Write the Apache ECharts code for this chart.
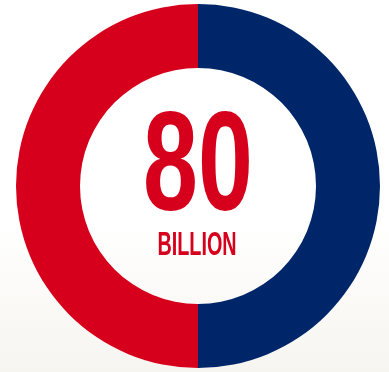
<!DOCTYPE html>
<html>
<head>
<meta charset="utf-8">
<script src="https://cdn.jsdelivr.net/npm/echarts@6/dist/echarts.min.js"></script>
<style>
  html, body { margin: 0; padding: 0; background: #fff; }
  #chart { width: 389px; height: 372px; }
</style>
</head>
<body>
<div id="chart"></div>
<script>
// two equal halves of the ring
const segments = ['Left', 'Right'];
const values = [50, 50];
const colors = ['#d6001c', '#00266a'];
const bigNumber = '80';
const unitLabel = 'BILLION';

const chart = echarts.init(document.getElementById('chart'));

chart.setOption({
  backgroundColor: {
    type: 'linear', x: 0, y: 0, x2: 0, y2: 1,
    colorStops: [
      { offset: 0, color: '#ffffff' },
      { offset: 0.6, color: '#ffffff' },
      { offset: 1, color: '#f7f5f0' }
    ]
  },
  animation: false,
  series: [{
    type: 'pie',
    center: [198, 186],
    radius: [118, 182],
    startAngle: 90,
    clockwise: false,
    silent: true,
    label: { show: false },
    labelLine: { show: false },
    data: segments.map((name, i) => ({
      name: name,
      value: values[i],
      itemStyle: { color: colors[i] }
    }))
  }],
  graphic: [
    {
      type: 'text',
      x: 198,
      y: 171,
      scaleX: 0.7,
      style: {
        text: bigNumber,
        x: 0,
        y: 0,
        align: 'center',
        verticalAlign: 'middle',
        fontFamily: 'Liberation Sans',
        fontWeight: 'bold',
        fontSize: 141,
        fill: '#d6001c'
      }
    },
    {
      type: 'text',
      x: 197,
      y: 246,
      scaleX: 0.6,
      style: {
        text: unitLabel,
        x: 0,
        y: 0,
        align: 'center',
        verticalAlign: 'middle',
        fontFamily: 'Liberation Sans',
        fontWeight: 'bold',
        fontSize: 33,
        fill: '#d6001c'
      }
    }
  ]
});
</script>
</body>
</html>
